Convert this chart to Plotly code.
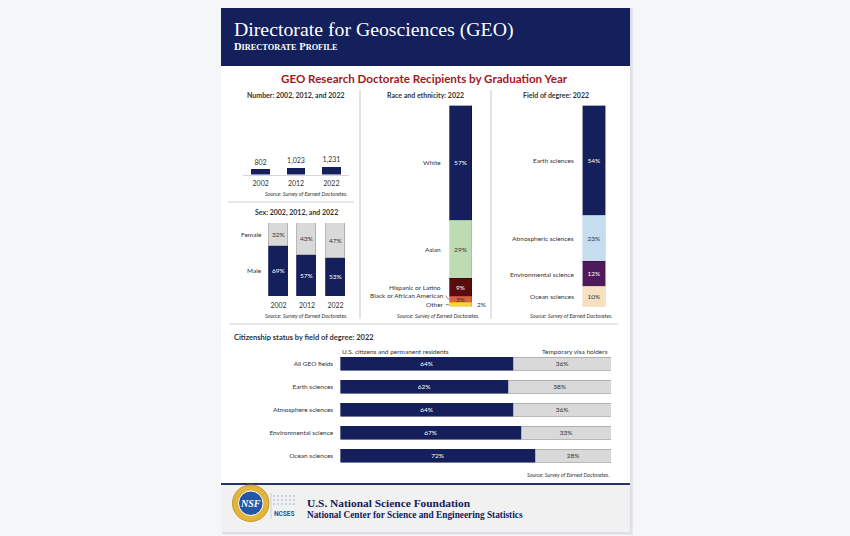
import plotly.graph_objects as go

# ---------------- data ----------------
years = ["2002", "2012", "2022"]
doctorates = [802, 1023, 1231]
male_pct = [69, 57, 53]
female_pct = [32, 43, 47]

race_labels = ["White", "Asian", "Hispanic or Latino", "Black or African American", "Other"]
race_pct = [57, 29, 9, 3, 2]
race_colors = ["#141f5b", "#bddcb4", "#5a0b0d", "#d8603c", "#f6d33c"]
race_line = ["#0c1444", "#8fbf85", "#3d0507", "#b04622", "#d2ab1a"]

field_labels = ["Earth sciences", "Atmospheric sciences", "Environmental science", "Ocean sciences"]
field_pct = [54, 23, 12, 10]
field_colors = ["#141f5b", "#c6dcef", "#4e1a5c", "#f6e0c0"]
field_line = ["#0c1444", "#93b3d3", "#340e3e", "#d8bd96"]

cit_fields = ["All GEO fields", "Earth sciences", "Atmosphere sciences",
              "Environmental science", "Ocean sciences"]
cit_us = [64, 62, 64, 67, 72]
cit_visa = [36, 38, 36, 33, 28]

# ---------------- helpers ----------------
OFF = 8  # page body margin
W, H = 850 - OFF, 536 - OFF
NAVY = "#141f5b"
GRAY = "#d9d9d9"
GRAYLINE = "#a6a6a6"
TXT = "#333333"
FONT = "Lato"
BG = "#f5f6f8"


def fx(p):
    return (p - OFF) / W


def fy(p):
    return 1 - (p - OFF) / H


fig = go.Figure()

# 1) Number of doctorates
fig.add_trace(go.Bar(x=years, y=doctorates, xaxis="x", yaxis="y", width=0.52,
                     marker=dict(color=NAVY, line=dict(width=0)),
                     texttemplate="%{y:,}", textposition="outside", cliponaxis=False,
                     textfont=dict(size=7, color=TXT, family=FONT), hoverinfo="skip"))

# 2) Sex
fig.add_trace(go.Bar(x=years, y=male_pct, xaxis="x2", yaxis="y2", width=0.67,
                     marker=dict(color=NAVY, line=dict(color=NAVY, width=0.8)),
                     texttemplate="%{y}%", textposition="inside", insidetextanchor="middle",
                     constraintext="none",
                     textfont=dict(size=6.5, color="white", family=FONT), hoverinfo="skip"))
fig.add_trace(go.Bar(x=years, y=female_pct, xaxis="x2", yaxis="y2", width=0.67,
                     marker=dict(color=GRAY, line=dict(color=GRAYLINE, width=0.8)),
                     texttemplate="%{y}%", textposition="inside", insidetextanchor="middle",
                     constraintext="none",
                     textfont=dict(size=6.5, color=TXT, family=FONT), hoverinfo="skip"))

# 3) Race and ethnicity (stacked single bar, top-down)
for lab, v, c, lc in zip(race_labels, race_pct, race_colors, race_line):
    dark = c in ("#141f5b", "#5a0b0d")
    show = v >= 3
    fig.add_trace(go.Bar(x=["2022"], y=[v], xaxis="x3", yaxis="y3", width=1,
                         marker=dict(color=c, line=dict(color=lc, width=0.6)),
                         text=[f"{v}%" if show else ""], textposition="inside",
                         insidetextanchor="middle", constraintext="none",
                         textfont=dict(size=6.5, color="white" if dark else TXT, family=FONT),
                         hoverinfo="skip", name=lab))

# 4) Field of degree
for lab, v, c, lc in zip(field_labels, field_pct, field_colors, field_line):
    dark = c in ("#141f5b", "#4e1a5c")
    fig.add_trace(go.Bar(x=["2022"], y=[v], xaxis="x4", yaxis="y4", width=1,
                         marker=dict(color=c, line=dict(color=lc, width=0.6)),
                         text=[f"{v}%"], textposition="inside",
                         insidetextanchor="middle", constraintext="none",
                         textfont=dict(size=6.5, color="white" if dark else TXT, family=FONT),
                         hoverinfo="skip", name=lab))

# 5) Citizenship
fig.add_trace(go.Bar(y=cit_fields, x=cit_us, orientation="h", xaxis="x5", yaxis="y5", width=0.6,
                     marker=dict(color=NAVY, line=dict(color=NAVY, width=0.6)),
                     texttemplate="%{x}%", textposition="inside", insidetextanchor="middle",
                     constraintext="none",
                     textfont=dict(size=6.5, color="white", family=FONT), hoverinfo="skip"))
fig.add_trace(go.Bar(y=cit_fields, x=cit_visa, orientation="h", xaxis="x5", yaxis="y5", width=0.6,
                     marker=dict(color=GRAY, line=dict(color=GRAYLINE, width=0.8)),
                     texttemplate="%{x}%", textposition="inside", insidetextanchor="middle",
                     constraintext="none",
                     textfont=dict(size=6.5, color=TXT, family=FONT), hoverinfo="skip"))

# ---------------- axes ----------------
hidden = dict(showgrid=False, zeroline=False, showticklabels=False, showline=False, ticks="")
tickfont = dict(size=7, color=TXT, family=FONT)

layout_axes = dict(
    xaxis=dict(domain=[fx(243), fx(349)], anchor="y", type="category", showgrid=False,
               zeroline=False, showline=True, linecolor="#d6d6d6", linewidth=1,
               ticks="outside", ticklen=2, tickcolor="rgba(0,0,0,0)", tickfont=tickfont),
    yaxis=dict(domain=[fy(174.5), fy(120)], anchor="x", range=[0, 8500], **hidden),
    xaxis2=dict(domain=[fx(264.3), fx(349.8)], anchor="y2", type="category", showgrid=False,
                zeroline=False, showline=False, ticks="outside", ticklen=3,
                tickcolor="rgba(0,0,0,0)", tickfont=tickfont),
    yaxis2=dict(domain=[fy(296), fy(223)], anchor="x2", range=[0, 100.5], **hidden),
    xaxis3=dict(domain=[fx(449.3), fx(472)], anchor="y3", type="category", range=[-0.5, 0.5], **hidden),
    yaxis3=dict(domain=[fy(306.7), fy(105.7)], anchor="x3", range=[100, 0], **hidden),
    xaxis4=dict(domain=[fx(582.7), fx(605.7)], anchor="y4", type="category", range=[-0.5, 0.5], **hidden),
    yaxis4=dict(domain=[fy(306.7), fy(105.7)], anchor="x4", range=[99, 0], **hidden),
    xaxis5=dict(domain=[fx(340.5), fx(611)], anchor="y5", range=[0, 100], **hidden),
    yaxis5=dict(domain=[fy(467.5), fy(352.5)], anchor="x5", type="category", autorange="reversed",
                showgrid=False, zeroline=False, showline=False, ticks="outside", ticklen=5,
                tickcolor="rgba(0,0,0,0)", tickfont=dict(size=6.5, color=TXT, family=FONT)),
)

# ---------------- shapes ----------------
shapes = []


def rect(x0, y0, x1, y1, fill, line=None, layer="below"):
    shapes.append(dict(type="rect", xref="paper", yref="paper", x0=fx(x0), x1=fx(x1),
                       y0=fy(y1), y1=fy(y0), fillcolor=fill,
                       line=dict(width=0) if line is None else line, layer=layer))


def hline(x0, x1, y, color, width=1):
    shapes.append(dict(type="line", xref="paper", yref="paper", x0=fx(x0), x1=fx(x1),
                       y0=fy(y), y1=fy(y), line=dict(color=color, width=width), layer="below"))


def vline(x, y0, y1, color, width=1):
    shapes.append(dict(type="line", xref="paper", yref="paper", x0=fx(x), x1=fx(x),
                       y0=fy(y0), y1=fy(y1), line=dict(color=color, width=width), layer="below"))


# page shadow + page
rect(223, 6, 633, 535, "#e6e7ea")
rect(222, 5, 631.5, 533.5, "#dcdde0")
rect(221, 4, 630, 532, "#ffffff")
# header band
rect(221, 4, 630, 66, "#13205b")
# footer
rect(221, 485, 630, 532, "#f1f1f1")
hline(221, 630, 484, "#27336a", 2)

# separators
hline(228, 354, 202, "#d0d0d0", 1)
hline(229, 618, 324, "#d0d0d0", 1.2)
vline(360, 90, 319, "#d0d0d0", 1.2)
vline(491, 90, 319, "#d0d0d0", 1.2)

# footer logo: NSF emblem
shapes.append(dict(type="circle", xref="paper", yref="paper", x0=fx(232.5), x1=fx(269),
                   y0=fy(521.5), y1=fy(485), fillcolor="#e1b43c", line=dict(color="#c8961e", width=1),
                   layer="above"))
shapes.append(dict(type="circle", xref="paper", yref="paper", x0=fx(238.5), x1=fx(263),
                   y0=fy(515.5), y1=fy(491), fillcolor="#2456a6", line=dict(color="#ffffff", width=1),
                   layer="above"))
vline(271, 493, 519, "#c8c8c8", 0.8)
# NCSES dot grid
for i in range(6):
    for j in range(3):
        cx = 274 + i * 4
        cy = 496 + j * 4
        shapes.append(dict(type="circle", xref="paper", yref="paper", x0=fx(cx - 0.8), x1=fx(cx + 0.8),
                           y0=fy(cy + 0.8), y1=fy(cy - 0.8), fillcolor="#8fa6c9",
                           line=dict(width=0), layer="above"))

# leader lines for small race segments
race_cum = []
acc = 0
for v in race_pct:
    race_cum.append(acc + v / 2)
    acc += v
race_offsets = [0, 0, 0, -2, 0]
for k in (3, 4):
    yy = race_cum[k] + race_offsets[k]
    shapes.append(dict(type="line", xref="paper", yref="y3", x0=fx(445.5), x1=fx(449),
                       y0=yy, y1=race_cum[k], line=dict(color="#555555", width=0.7)))

# ---------------- annotations ----------------
ann = []


def txt(x, y, s, size=7, color=TXT, xanchor="center", family=FONT, yref="paper", **kw):
    ann.append(dict(x=fx(x), y=fy(y) if yref == "paper" else y,
                    xref="paper", yref=yref, text=s, showarrow=False, xanchor=xanchor,
                    yanchor="middle", font=dict(size=size, color=color, family=family), **kw))


SERIF = "Liberation Serif"
txt(232, 29, "Directorate for Geosciences (GEO)", size=19.8, color="white", xanchor="left", family=SERIF)
txt(232, 46, "<b>D<span style='font-size:8.3px'>IRECTORATE</span> P<span style='font-size:8.3px'>ROFILE</span></b>",
    size=10.5, color="white", xanchor="left", family=SERIF)

txt(424, 78, "<b>GEO Research Doctorate Recipients by Graduation Year</b>", size=11.6, color="#a3181f")

txt(296, 95, "<b>Number: 2002, 2012, and 2022</b>", size=7)
txt(425.5, 95, "<b>Race and ethnicity: 2022</b>", size=7)
txt(556, 95, "<b>Field of degree: 2022</b>", size=7)
txt(296, 212, "<b>Sex: 2002, 2012, and 2022</b>", size=7)

SRC = "<i>Source: Survey of Earned Doctorates.</i>"
txt(349, 193.5, SRC, size=5.4, xanchor="right")
txt(349, 316, SRC, size=5.4, xanchor="right")
txt(481, 316, SRC, size=5.4, xanchor="right")
txt(614, 316, SRC, size=5.4, xanchor="right")
txt(611, 475, SRC, size=5.4, xanchor="right")

# sex row labels, centred on the 2002 segments
txt(264, (female_pct[0] / 2 + male_pct[0]), "Female", size=6.5, xanchor="right", yref="y2")
txt(264, male_pct[0] / 2, "Male", size=6.5, xanchor="right", yref="y2")

# race labels
for k, lab in enumerate(race_labels):
    xr = 442.5 if k < 3 else 445.5
    txt(xr, race_cum[k] + race_offsets[k], lab, size=6.5, xanchor="right", yref="y3")
txt(475, race_cum[4], f"{race_pct[4]}%", size=6.5, xanchor="left", yref="y3")

# field labels
acc = 0
for lab, v in zip(field_labels, field_pct):
    txt(576, acc + v / 2, lab, size=6.5, xanchor="right", yref="y4")
    acc += v

# citizenship
txt(232, 337.5, "<b>Citizenship status by field of degree: 2022</b>", size=7.5, xanchor="left")
txt(340, 351.5, "U.S. citizens and permanent residents", size=6.5, xanchor="left")
txt(610, 351.5, "Temporary visa holders", size=6.5, xanchor="right")

# footer text
txt(250.7, 503.3, "<b><i>NSF</i></b>", size=10, color="white", family=SERIF)
txt(284.5, 514, "<b>NCSES</b>", size=6.5, color="#2456a6", family="Roboto")
txt(305, 503, "<b>U.S. National Science Foundation</b>", size=11.4, color="#13205b", xanchor="left", family=SERIF)
txt(305, 515, "<b>National Center for Science and Engineering Statistics</b>", size=9.3, color="#13205b",
    xanchor="left", family=SERIF)

fig.update_layout(
    width=W, height=H, margin=dict(l=0, r=0, t=0, b=0),
    paper_bgcolor=BG, plot_bgcolor="rgba(0,0,0,0)",
    showlegend=False, barmode="stack", bargap=0,
    font=dict(family=FONT, color=TXT),
    shapes=shapes, annotations=ann,
    **layout_axes,
)

fig.write_html("out.html", config={"displayModeBar": False},
               post_script=f"document.body.style.background='{BG}';")
